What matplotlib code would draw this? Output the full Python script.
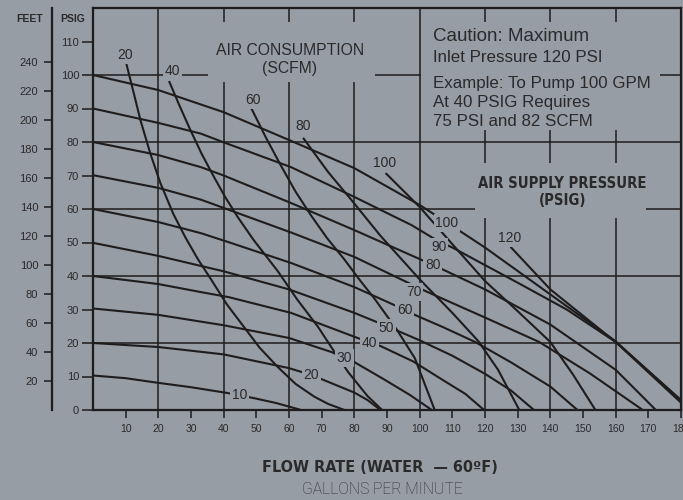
import matplotlib
matplotlib.use("Agg")
import matplotlib.pyplot as plt
from matplotlib.patches import Rectangle
from matplotlib import font_manager

# air supply pressure curves (gpm, psig)
p10_x = [0, 10, 20, 30, 41, 49, 56, 63.7]
p10_y = [10.3, 9.5, 8.1, 6.8, 5.1, 3.6, 2.1, 0]
p20_x = [0, 20, 40, 60, 67, 72, 80, 84, 88]
p20_y = [20, 18.8, 16.6, 12.5, 10.4, 8.4, 5.2, 3.0, 0]
p30_x = [0, 20, 40, 60, 73, 80, 89, 97, 103.7]
p30_y = [30.3, 28.4, 25.3, 21.5, 17.3, 14.3, 9.2, 4.5, 0]
p40_x = [0, 20, 33, 41.5, 60.6, 81, 88, 98, 107, 114, 119.7]
p40_y = [40, 37.6, 35.2, 33.7, 29, 21.5, 19.1, 14.5, 9, 4.8, 0]
p50_x = [0, 20, 40, 60, 80, 90, 100, 110, 120, 128, 135]
p50_y = [49.9, 46, 41.4, 36, 29, 25, 20.8, 16.2, 10.8, 5.8, 0]
p60_x = [0, 20, 33, 41.5, 60.6, 80, 92.3, 98.5, 107, 117, 128, 140, 148.3]
p60_y = [60, 56.1, 52.8, 50.1, 43.9, 36.7, 31.3, 28.4, 24.8, 20.3, 14.2, 7, 0]
p70_x = [0, 20, 33, 60.6, 80, 96, 102, 120, 136.6, 152, 168.3]
p70_y = [70.1, 66.3, 62.8, 53, 45.7, 38.2, 35.4, 27.6, 20.3, 11, 0]
p80_x = [0, 20, 33, 40, 60.6, 80, 100.6, 107.4, 120, 140, 160, 172.3]
p80_y = [80, 76.1, 72.5, 70, 61.8, 53.7, 44.8, 41.8, 36, 25.5, 12, 0]
p90_x = [0, 20, 33, 40, 60.6, 80, 97.5, 105.5, 110, 130, 145, 160, 180]
p90_y = [90, 85.7, 82.5, 79.9, 72.5, 63.6, 55.2, 50.5, 48.5, 38, 30, 20.3, 2.2]
p100_x = [0, 20, 40, 60, 80, 100, 108.6, 120, 140, 160, 180]
p100_y = [100, 95.5, 88.9, 80.6, 72.2, 61.2, 55.8, 48.5, 34.5, 20.5, 2.8]
p120_x = [128, 140, 160, 180]
p120_y = [48.5, 36, 20.3, 3]

# air consumption curves (scfm)
s20_x = [10.3, 12.5, 14.5, 17.5, 20.6, 24.6, 28.3, 32, 36, 41, 46.2, 51, 56.6, 62, 67.7, 72, 77]
s20_y = [103, 94.5, 86.6, 76.7, 67.8, 58.5, 51.5, 45.2, 39.2, 31.5, 24.8, 18.6, 12.8, 7.8, 4.0, 1.8, 0]
s40_x = [23.4, 26.5, 29.8, 33.3, 36.9, 40.5, 44.3, 49.2, 56.6, 62.5, 68.9, 74, 78.2, 84, 88.5]
s40_y = [97.9, 90.8, 83.6, 76.4, 69.8, 63.5, 57.6, 50.7, 41.4, 33.0, 24.8, 17.2, 11.2, 4.2, 0]
s60_x = [48.5, 53, 57.5, 62, 66.8, 71.5, 76.9, 81.5, 86.2, 93, 98.5, 104.6]
s60_y = [90, 81.2, 73, 65.2, 58, 51.5, 45, 39, 33.2, 24, 15.5, 0]
s80_x = [64.5, 72, 79.1, 88, 100, 110, 118, 124, 130.5]
s80_y = [81, 71, 62.7, 52, 39, 29, 20.5, 12, 0]
s100_x = [89.8, 100, 110, 120, 130, 140, 147, 153.8]
s100_y = [70.5, 60.6, 49.5, 38.5, 29.5, 20.3, 10.5, 0]

# labels: text, x, y
psi_labels = ["10", "20", "30", "40", "50", "60", "70", "80", "90", "100", "120"]
psi_lab_x = [44.9, 66.8, 76.9, 84.6, 89.8, 95.4, 98.2, 104, 105.8, 108.3, 127.4]
psi_lab_y = [4.5, 10.4, 15.5, 20, 24.5, 29.9, 35.2, 43.3, 48.7, 55.8, 51.3]
scfm_labels = ["20", "40", "60", "80", "100"]
scfm_lab_x = [9.8, 24.3, 48.9, 64.3, 89.2]
scfm_lab_y = [106, 101.2, 92.5, 84.8, 73.7]

grid_x = [20, 40, 60, 80, 100, 120, 140, 160]
grid_y = [20, 40, 60, 80, 100]
x_ticks = list(range(10, 181, 10))
psig_ticks = list(range(0, 111, 10))
feet_ticks = list(range(20, 241, 20))

bg = '#969da4'
ink = '#1f1c1d'
txt = '#2b2a2b'
plt.rcParams['font.family'] = ['Liberation Sans', 'DejaVu Sans']

# a narrow bold face for the headings, if one is there
names = {f.name for f in font_manager.fontManager.ttflist}
narrow = dict(family='Liberation Sans Narrow') if 'Liberation Sans Narrow' in names else \
    dict(family='DejaVu Sans', stretch='condensed')

fig = plt.figure(figsize=(6.83, 5.0), dpi=100, facecolor=bg)
ax = fig.add_axes([93/683, 90/500, 588/683, 402/500])
ax.set_facecolor(bg)
ax.set_xlim(0, 180)
ax.set_ylim(0, 120)

for s in ax.spines.values():
    s.set_linewidth(1.6)
    s.set_color(ink)

for v in grid_x:
    ax.axvline(v, color=ink, lw=1.1, zorder=1)
for h in grid_y:
    ax.axhline(h, color=ink, lw=1.1, zorder=1)

# blank boxes behind the notes
for x0, y0, w, h in [(35.1, 97.9, 51.1, 18.0), (100.5, 83.6, 73.0, 32.2), (116.9, 57.3, 52.3, 16.4)]:
    ax.add_patch(Rectangle((x0, y0), w, h, fc=bg, ec='none', zorder=2))

curves = [(p10_x, p10_y), (p20_x, p20_y), (p30_x, p30_y), (p40_x, p40_y), (p50_x, p50_y),
          (p60_x, p60_y), (p70_x, p70_y), (p80_x, p80_y), (p90_x, p90_y), (p100_x, p100_y),
          (p120_x, p120_y), (s20_x, s20_y), (s40_x, s40_y), (s60_x, s60_y), (s80_x, s80_y),
          (s100_x, s100_y)]
for cx, cy in curves:
    ax.plot(cx, cy, color=ink, lw=1.5, zorder=3, solid_joinstyle='round')

box = dict(boxstyle='square,pad=0.12', fc=bg, ec='none')
for lab, lx, ly in zip(psi_labels + scfm_labels, psi_lab_x + scfm_lab_x, psi_lab_y + scfm_lab_y):
    ax.text(lx, ly, lab, ha='center', va='center', fontsize=10, color=txt, zorder=5, bbox=box)

ax.text(60.3, 106, "AIR CONSUMPTION", ha='center', va='baseline', fontsize=11.3, color=txt, zorder=5)
ax.text(60.3, 100.5, "(SCFM)", ha='center', va='baseline', fontsize=11.3, color=txt, zorder=5)

ax.text(104, 110.1, "Caution: Maximum", fontsize=13.5, color=txt, zorder=5)
ax.text(104, 103.8, "Inlet Pressure 120 PSI", fontsize=12.2, color=txt, zorder=5)
ax.text(104, 96.2, "Example: To Pump 100 GPM", fontsize=12.2, color=txt, zorder=5)
ax.text(104, 90.5, "At 40 PSIG Requires", fontsize=12.2, color=txt, zorder=5)
ax.text(104, 84.9, "75 PSI and 82 SCFM", fontsize=12.2, color=txt, zorder=5)

ax.text(143.7, 66.2, "AIR SUPPLY PRESSURE", ha='center', fontsize=10.6, weight='bold',
        color=txt, zorder=5, **narrow)
ax.text(143.7, 61.2, "(PSIG)", ha='center', fontsize=10.6, weight='bold',
        color=txt, zorder=5, **narrow)

ax.set_xticks(x_ticks)
ax.set_xticklabels([str(t) for t in x_ticks])
ax.set_yticks(psig_ticks)
ax.set_yticklabels([str(t) for t in psig_ticks])
ax.tick_params(axis='x', direction='out', length=6, width=1.1, pad=4, labelsize=7.5,
               colors=ink, labelcolor=txt)
ax.tick_params(axis='y', direction='out', length=8, width=1.1, pad=2, labelsize=8,
               colors=ink, labelcolor=txt)

sec = ax.secondary_yaxis(-41/588, functions=(lambda p: p * 2.31, lambda f: f / 2.31))
sec.set_yticks(feet_ticks)
sec.set_yticklabels([str(t) for t in feet_ticks])
sec.spines['left'].set_linewidth(1.6)
sec.spines['left'].set_color(ink)
sec.tick_params(direction='out', length=6, width=1.1, pad=4, labelsize=8, colors=ink, labelcolor=txt)

fig.text(29.5/683, 1 - 19/500, "FEET", ha='center', va='center', fontsize=7.5, weight='bold', color=txt)
fig.text(72.7/683, 1 - 19/500, "PSIG", ha='center', va='center', fontsize=7.5, weight='bold', color=txt)

fig.text(380/683, 1 - 468/500, "FLOW RATE (WATER  \u2014 60\u00baF)", ha='center', va='center',
         fontsize=11.6, weight='bold', color=txt, **narrow)
fig.text(382/683, 1 - 489/500, "GALLONS PER MINUTE", ha='center', va='center',
         fontsize=11.3, family='Roboto', weight='light', color='#2c2d30')

fig.savefig("out.png", dpi=100, facecolor=bg)
